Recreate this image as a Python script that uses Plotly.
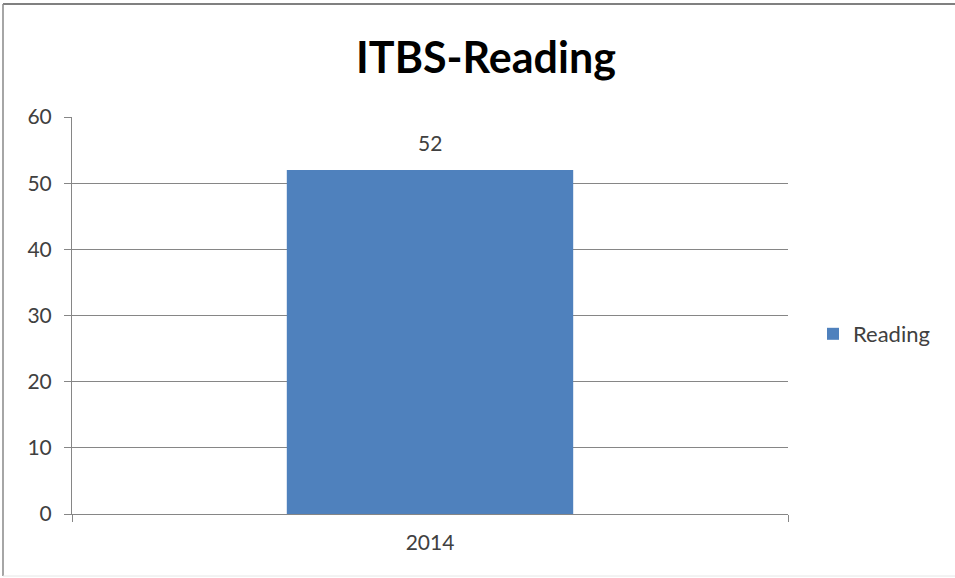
import plotly.graph_objects as go

categories = ["2014"]
reading = [52]
y_ticks = [0, 10, 20, 30, 40, 50, 60]

W, H = 955, 578
L, R, T, B = 72, 167, 117, 64
pw, ph = W - L - R, H - T - B

def px_x(x):
    return (x - L) / pw

def px_y(y):
    return (H - B - y) / ph

fig = go.Figure()
fig.add_trace(go.Bar(
    x=categories, y=reading, name="Reading",
    marker=dict(color="#4F81BD", line=dict(width=0)),
    width=0.4,
))

for i, v in enumerate(reading):
    fig.add_annotation(x=i, y=v, xref="x", yref="y", text=str(v), showarrow=False,
                       yshift=27, font=dict(size=21, color="#404040", family="Lato"))

border = [
    dict(type="line", xref="paper", yref="paper", x0=px_x(3), x1=px_x(955),
         y0=px_y(4), y1=px_y(4), line=dict(color="#808080", width=2)),
    dict(type="line", xref="paper", yref="paper", x0=px_x(3), x1=px_x(3),
         y0=px_y(4), y1=px_y(576), line=dict(color="#888888", width=1.5)),
    dict(type="line", xref="paper", yref="paper", x0=px_x(3), x1=px_x(955),
         y0=px_y(576), y1=px_y(576), line=dict(color="#E6E6E6", width=1)),
]

fig.update_layout(
    width=W, height=H,
    margin=dict(l=L, r=R, t=T, b=B, autoexpand=False),
    paper_bgcolor="white", plot_bgcolor="white",
    font=dict(family="Lato", color="#404040", size=18),
    title=dict(text="<b>ITBS-Reading</b>", x=486 / W, xanchor="center",
               y=1 - 58 / H, yanchor="middle",
               font=dict(size=43, color="black", family="Lato")),
    showlegend=True,
    legend=dict(x=px_x(813), y=px_y(334), xanchor="left", yanchor="middle",
                font=dict(size=22, color="#404040"), itemwidth=30,
                bgcolor="rgba(0,0,0,0)"),
    xaxis=dict(type="category", range=[-0.5, 0.5], showline=True, linecolor="#868686",
               linewidth=1, ticks="outside", tickson="boundaries", ticklen=7,
               tickcolor="#868686", showgrid=False, ticklabelstandoff=10,
               tickfont=dict(size=21, color="#404040")),
    yaxis=dict(range=[0, 60], tickvals=y_ticks, showline=True, linecolor="#868686",
               linewidth=1, ticks="outside", ticklen=7, tickcolor="#868686",
               showgrid=True, gridcolor="#868686", gridwidth=1, zeroline=False,
               ticklabelstandoff=8,
               tickfont=dict(size=21, color="#404040")),
    shapes=border,
)

fig.write_html("out.html", config={"displayModeBar": False},
               post_script="document.body.style.margin='0';document.body.style.overflow='hidden';")
